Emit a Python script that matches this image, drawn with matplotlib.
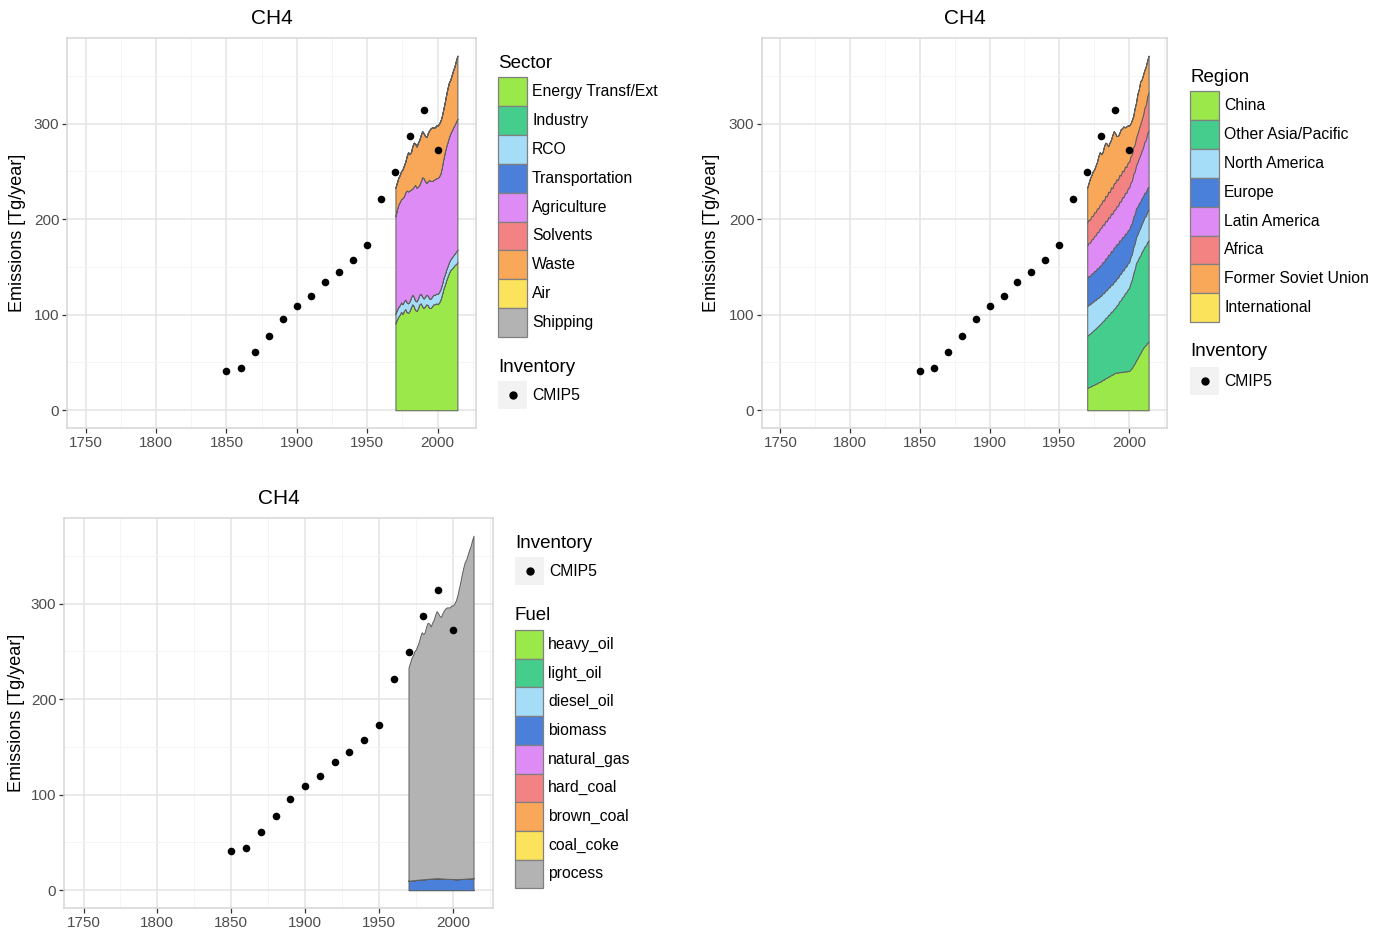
import numpy as np
import matplotlib
matplotlib.use('Agg')
import matplotlib.pyplot as plt
from matplotlib.patches import Rectangle

plt.rcParams['font.family'] = ['Liberation Sans', 'DejaVu Sans']

# ---- data -------------------------------------------------------------
years = list(range(1970, 2015))

cmip_years = [1850, 1860, 1870, 1880, 1890, 1900, 1910, 1920, 1930, 1940,
              1950, 1960, 1970, 1980, 1990, 2000]
cmip_vals = [40.6, 44.7, 61, 78, 95.4, 109, 120, 133.9, 144.6, 156.8,
             173, 221, 249.4, 286.9, 314, 272.6]

# sectors (Tg/year)
energy = [91, 95, 98, 100, 103, 101, 104, 106, 103, 102,
          104, 108, 111, 109, 105, 104, 107, 111, 112, 109,
          107, 109, 111, 110, 107, 107, 109, 111, 111, 112,
          111, 113, 116, 121, 127, 131, 136, 140, 144, 147,
          148, 150, 152, 153, 155]
industry = [0.0] * len(years)
rco = [10, 10, 10, 10, 10, 10, 10, 10, 10, 10,
       10, 10, 10, 10, 10, 10, 10, 10, 10, 10,
       10, 10, 10, 10, 10, 10, 10, 10, 10, 10,
       11, 11, 11, 11, 11, 11, 11, 11, 11, 11,
       12, 12, 12, 13, 13]
transportation = [0.0] * len(years)
agriculture = [102, 105, 107, 108, 108, 111, 110, 112, 117, 117,
               116, 113, 111, 115, 121, 119, 117, 115, 118, 125,
               126, 121, 117, 120, 124, 123, 121, 120, 121, 121,
               121, 121, 121, 123, 125, 128, 129, 130, 131, 132,
               133, 134, 135, 136, 137]
solvents = [0.0] * len(years)
waste = [30, 28, 28, 28, 29, 30, 32, 32, 36, 41,
         38, 39, 44, 46, 43, 43, 46, 47, 48, 48,
         47, 47, 48, 50, 52, 55, 56, 55, 54, 55,
         55, 55, 55, 53, 52, 52, 54, 56, 57, 56,
         58, 60, 61, 64, 66]
air = [0.0] * len(years)
shipping = [0.0] * len(years)

# regions (Tg/year)
china = [23.6, 24.0, 24.9, 25.3, 26.4, 26.7, 27.8, 28.2, 29.4, 29.7,
         30.6, 31.8, 32.2, 33.6, 33.9, 35.3, 35.6, 37.0, 37.2, 38.6,
         39.0, 39.6, 39.3, 40.1, 39.8, 40.5, 40.2, 40.9, 40.6, 41.1,
         41.0, 42.8, 44.2, 47.1, 49.0, 52.3, 54.3, 57.5, 59.5, 62.7,
         65.0, 67.1, 68.3, 70.6, 72.0]
other_asia = [54.4, 55.3, 55.4, 56.5, 56.6, 57.7, 57.8, 58.9, 59.0, 60.1,
              60.4, 61.5, 61.8, 63.0, 63.3, 64.5, 64.8, 66.1, 66.3, 67.5,
              68.0, 70.2, 71.5, 74.0, 75.3, 77.8, 79.1, 81.6, 82.9, 85.4,
              87.0, 90.3, 92.7, 96.3, 98.7, 102.0, 101.9, 102.7, 102.3, 103.1,
              103.0, 104.1, 104.2, 105.5, 106.0]
north_america = [31, 31.3, 30.6, 30.9, 30.2, 30.5, 29.8, 30.1, 29.2, 29.5,
                 29, 29.2, 28.6, 29.0, 28.4, 28.8, 28.2, 28.6, 28.0, 28.4,
                 28, 28.2, 27.6, 28.0, 27.4, 27.8, 27.2, 27.6, 27.0, 27.4,
                 27, 27.3, 26.8, 27.3, 26.8, 27, 27.9, 28.0, 29.1, 29.2,
                 30, 30.8, 30.8, 31.8, 32]
europe = [29.5, 29.9, 29.8, 30.4, 30.3, 30.9, 30.8, 31.5, 31.3, 32.0,
          32, 32.6, 32.6, 33.4, 33.4, 34.2, 34.2, 35.0, 35.0, 35.8,
          36, 36.0, 35.4, 35.6, 35.0, 35.2, 34.6, 34.8, 34.2, 34.4,
          34, 33.4, 32.2, 31.8, 30.6, 30.2, 29.0, 28.6, 27.4, 27.0,
          26, 25.7, 24.8, 24.7, 24]
latin_america = [34, 34.7, 34.8, 35.7, 35.8, 36.7, 36.8, 37.7, 37.8, 38.7,
                 39, 39.3, 38.8, 39.3, 38.8, 39.3, 38.8, 39.3, 38.8, 39.2,
                 39, 39.7, 39.8, 40.7, 40.8, 41.7, 41.8, 42.7, 42.8, 43.7,
                 44, 44.4, 44.2, 44.8, 44.6, 45, 46.4, 47.2, 48.8, 49.6,
                 51, 53.2, 54.8, 57.2, 59]
africa = [24, 24.3, 24.0, 24.5, 24.2, 24.7, 24.4, 24.9, 24.6, 25.1,
          25, 25.5, 25.4, 26.1, 26.0, 26.7, 26.6, 27.3, 27.2, 27.9,
          28, 28.1, 27.6, 27.9, 27.4, 27.7, 27.2, 27.5, 27.0, 27.3,
          27, 27.6, 27.6, 28.4, 28.4, 29, 30.2, 30.8, 32.2, 32.8,
          34, 35.7, 36.8, 38.7, 40]
fsu = [36.5, 38.5, 43.5, 42.7, 46.5, 44.8, 48.6, 48.6, 54.7, 54.9,
       52, 50.1, 56.6, 55.6, 55.2, 47.4, 51.8, 49.7, 55.5, 54.6,
       52, 45.2, 45.8, 43.7, 48.3, 44.5, 46.9, 40.9, 42.5, 38.7,
       38, 34.2, 36.1, 32.3, 37.9, 36.5, 41.3, 41.2, 44.7, 41.6,
       42, 39.4, 40.1, 37.5, 38]
international = [0.0] * len(years)

# fuels (Tg/year)
heavy_oil = [0.0] * len(years)
light_oil = [0.0] * len(years)
diesel_oil = [0.0] * len(years)
biomass = [10, 10.2, 10.3, 10.5, 10.6, 10.8, 11, 11.1, 11.3, 11.4,
           11.5, 11.6, 11.8, 12, 12.1, 12.2, 12.3, 12.4, 12.5, 12.6,
           12.6, 12.5, 12.4, 12.3, 12.2, 12.1, 12, 12, 11.9, 11.9,
           11.8, 11.7, 11.6, 11.6, 11.7, 11.8, 11.9, 12, 12.1, 12.2,
           12.3, 12.4, 12.5, 12.6, 12.7]
natural_gas = [0.0] * len(years)
hard_coal = [0.0] * len(years)
brown_coal = [0.0] * len(years)
coal_coke = [0.0] * len(years)
process = [223, 227.8, 232.7, 235.5, 239.4, 241.2, 245, 248.9, 254.7, 258.6,
           256.5, 258.4, 264.2, 268, 266.9, 263.8, 267.7, 270.6, 275.5, 279.4,
           277.4, 274.5, 273.6, 277.7, 280.8, 282.9, 284, 284, 284.1, 286.1,
           286.2, 288.3, 291.4, 296.4, 303.3, 310.2, 318.1, 325, 330.9, 333.8,
           338.7, 343.6, 347.5, 353.4, 358.3]

sector_labels = ['Energy Transf/Ext', 'Industry', 'RCO', 'Transportation',
                 'Agriculture', 'Solvents', 'Waste', 'Air', 'Shipping']
region_labels = ['China', 'Other Asia/Pacific', 'North America', 'Europe',
                 'Latin America', 'Africa', 'Former Soviet Union', 'International']
fuel_labels = ['heavy_oil', 'light_oil', 'diesel_oil', 'biomass', 'natural_gas',
               'hard_coal', 'brown_coal', 'coal_coke', 'process']

pal = ['#9be84b', '#45cd8d', '#a5dcf7', '#4a80d9', '#df8bf5',
       '#f38383', '#f9a85a', '#fce35c', '#b3b3b3']

# ---- figure -----------------------------------------------------------
W, H = 1386, 933
fig = plt.figure(figsize=(W / 100, H / 100), dpi=100)

# overlay in pixel coords for titles, y labels and legends
lg = fig.add_axes([0, 0, 1, 1])
lg.set_xlim(0, W)
lg.set_ylim(H, 0)
lg.axis('off')


def px_axes(x0, y0, x1, y1):
    return fig.add_axes([x0 / W, 1 - y1 / H, (x1 - x0) / W, (y1 - y0) / H])


def panel(x0, y0, x1, y1, layers, colors):
    ax = px_axes(x0, y0, x1, y1)
    ax.set_xlim(1736.8, 2027.2)
    ax.set_ylim(-18.55, 389.55)
    ax.set_xticks([1750, 1800, 1850, 1900, 1950, 2000])
    ax.set_xticks([1775, 1825, 1875, 1925, 1975, 2025], minor=True)
    ax.set_yticks([0, 100, 200, 300])
    ax.set_yticks([50, 150, 250, 350], minor=True)
    ax.grid(which='major', color='#e6e6e6', lw=1.2)
    ax.grid(which='minor', color='#f4f4f4', lw=0.6)
    ax.set_axisbelow(True)
    for s in ax.spines.values():
        s.set_color('#d6d6d6')
        s.set_linewidth(1.1)
    ax.tick_params(which='major', length=3.5, width=0.9, color='#333333',
                   labelcolor='#4d4d4d', labelsize=11, pad=2)
    ax.tick_params(which='minor', length=0)
    ax.stackplot(years, *layers, colors=colors, edgecolor='#5e5e5e', linewidth=0.7)
    ax.scatter(cmip_years, cmip_vals, s=30, c='black', linewidths=0, zorder=5)
    lg.text((x0 + x1) / 2, y0 - 20, 'CH4', fontsize=15, ha='center', va='center')
    return ax


def ylabel(x, yc):
    lg.text(x, yc, 'Emissions [Tg/year]', fontsize=13, rotation=90,
            ha='center', va='center')


def fill_legend(x, y_title, title, labels, colors, top, kh=28.9, kw=29):
    lg.text(x, y_title, title, fontsize=13.5, ha='left', va='center')
    for i, (lab, c) in enumerate(zip(labels, colors)):
        t = top + i * kh
        lg.add_patch(Rectangle((x, t), kw, kh, facecolor=c, edgecolor='#808080', lw=0.9))
        lg.text(x + kw + 5, t + kh / 2, lab, fontsize=11.3, ha='left', va='center')


def inv_legend(x, y_title, top, kw=29, kh=28):
    lg.text(x, y_title, 'Inventory', fontsize=13.5, ha='left', va='center')
    lg.add_patch(Rectangle((x, top), kw, kh, facecolor='#f2f2f2', edgecolor='none'))
    lg.plot([x + kw / 2], [top + kh / 2], 'o', color='black', ms=5)
    lg.text(x + kw + 5, top + kh / 2, 'CMIP5', fontsize=11.3, ha='left', va='center')


# top left: sectors
panel(67, 38, 476, 428,
      [energy, industry, rco, transportation, agriculture, solvents, waste, air, shipping],
      pal)
ylabel(18, 233)
fill_legend(498, 63, 'Sector', sector_labels, pal, 77)
inv_legend(498, 367, 381)

# top right: regions
panel(762, 38, 1167, 428,
      [china, other_asia, north_america, europe, latin_america, africa, fsu, international],
      pal[:8])
ylabel(712, 233)
fill_legend(1190, 77, 'Region', region_labels, pal[:8], 91)
inv_legend(1190, 352, 367)

# bottom left: fuels
panel(64, 518, 493, 908,
      [heavy_oil, light_oil, diesel_oil, biomass, natural_gas, hard_coal,
       brown_coal, coal_coke, process],
      pal)
ylabel(17, 713)
inv_legend(515, 543, 557)
fill_legend(515, 616, 'Fuel', fuel_labels, pal, 630, kh=28.7, kw=28)

fig.savefig('out.png', dpi=100)
